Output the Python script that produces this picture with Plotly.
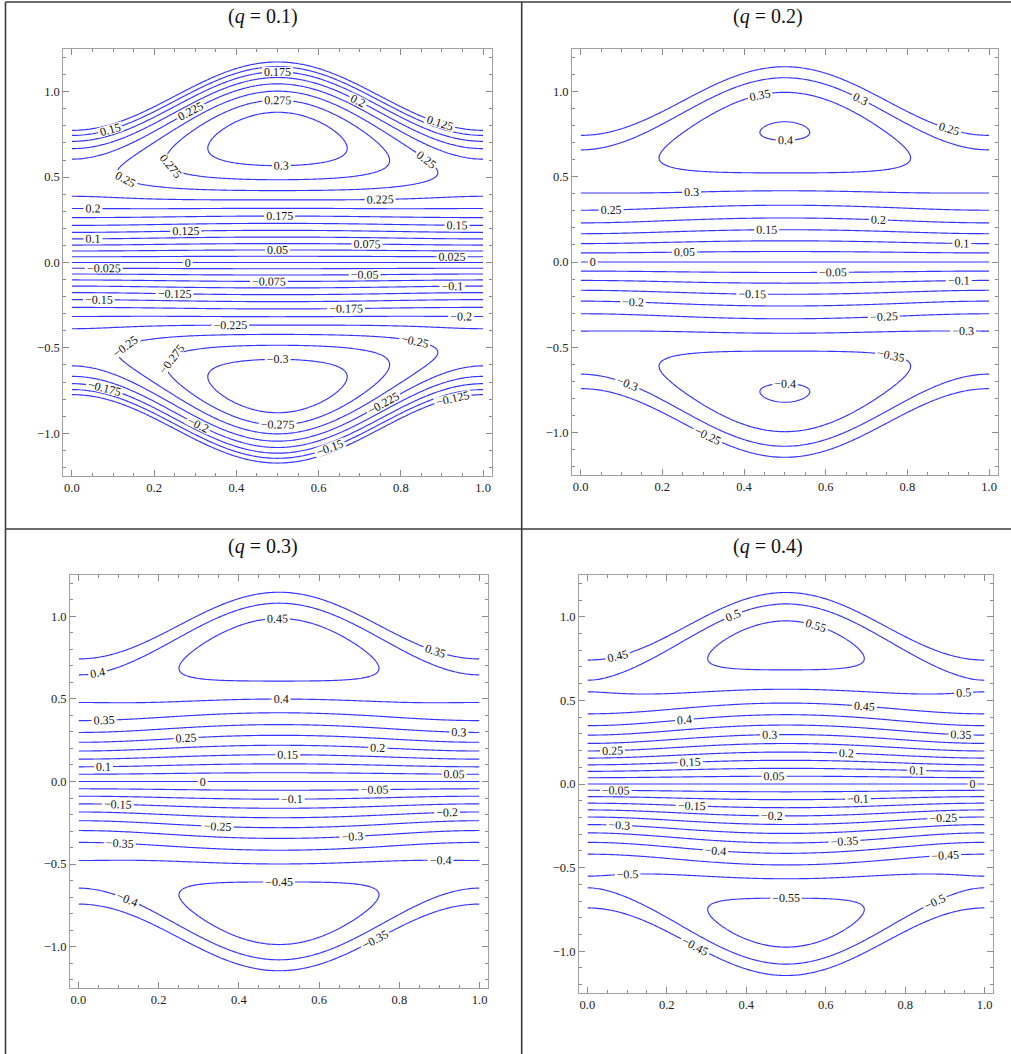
import numpy as np
import plotly.graph_objects as go

# ---------------- data ----------------
q_values = [0.1, 0.2, 0.3, 0.4]
panel_titles = ["(<i>q</i> = 0.1)", "(<i>q</i> = 0.2)", "(<i>q</i> = 0.3)", "(<i>q</i> = 0.4)"]
level_steps = [0.025, 0.05, 0.05, 0.05]
level_limits = [0.3, 0.4, 0.45, 0.55]
wall_mean = 1.0          # mean channel half-width
wall_amplitude = 0.2     # wave amplitude of the wall
flow_index = 1.25        # power-law flow behaviour index
x_tick_vals = [0.0, 0.2, 0.4, 0.6, 0.8, 1.0]
y_tick_vals = [-1.0, -0.5, 0.0, 0.5, 1.0]

# ---------------- layout geometry (pixels) ----------------
W, H = 1011, 1054
# plot frames: (left, right, top, bottom) in pixels
frames = [(63.3, 491.7, 49, 476), (572, 997.7, 49, 475),
          (70, 488, 575, 988), (579, 993, 575, 993)]
title_pos = [(263, 17), (768, 17), (263, 546), (768, 546)]

# ---------------- stream-function field ----------------
xs = np.linspace(0.0, 1.0, 161)
ys = np.linspace(-1.2, 1.2, 481)
X, Y = np.meshgrid(xs, ys)
Hw = wall_mean - wall_amplitude * np.cos(2 * np.pi * X)
m = 1.0 + 1.0 / flow_index


def stream(q):
    A = (q + Hw) * (m + 1) / (Hw * m)
    r = np.abs(Y) / Hw
    psi = A * (Y - Hw * np.sign(Y) * r ** (m + 1) / (m + 1)) - Y
    psi = np.round(psi, 5).astype(object)
    psi[r > 1.0] = None
    return psi.tolist()


fig = go.Figure()
tick_font = dict(family="Liberation Serif", size=12.5, color="#222")
for k, q in enumerate(q_values):
    ax = "" if k == 0 else str(k + 1)
    fig.add_trace(go.Contour(
        x=xs, y=ys, z=stream(q),
        xaxis="x" + ax, yaxis="y" + ax,
        autocontour=False,
        contours=dict(start=-level_limits[k], end=level_limits[k] + 1e-9,
                      size=level_steps[k], coloring="none", showlabels=True,
                      labelfont=dict(family="Liberation Serif", size=12, color="#111"),
                      labelformat=".3~f"),
        line=dict(color="#3434ff", width=1.15),
        showscale=False, hoverinfo="skip",
    ))
    l, r, t, b = frames[k]
    axis_common = dict(showline=True, linecolor="#a0a0a0", linewidth=1, mirror="ticks",
                       ticks="inside", ticklen=6, tickcolor="#8a8a8a", tickwidth=1,
                       showgrid=False, zeroline=False, tickfont=tick_font,
                       tickformat=".1f")
    fig.layout["xaxis" + ax] = dict(
        domain=[l / W, r / W], range=[-0.021, 1.021], anchor="y" + ax,
        tickvals=x_tick_vals,
        minor=dict(dtick=0.05, tick0=0, ticks="inside", ticklen=3, tickcolor="#8a8a8a",
                   showgrid=False),
        **axis_common)
    fig.layout["yaxis" + ax] = dict(
        domain=[1 - b / H, 1 - t / H], range=[-1.25, 1.25], anchor="x" + ax,
        tickvals=y_tick_vals,
        minor=dict(dtick=0.1, tick0=0, ticks="inside", ticklen=3, tickcolor="#8a8a8a",
                   showgrid=False),
        **axis_common)
    tx, ty = title_pos[k]
    fig.add_annotation(x=tx / W, y=1 - ty / H, xref="paper", yref="paper",
                       text=panel_titles[k], showarrow=False,
                       font=dict(family="Liberation Serif", size=20, color="#111"),
                       xanchor="center", yanchor="middle")

# table borders
border = dict(color="#3c3c3c", width=1.6)
shapes = [
    dict(type="line", xref="paper", yref="paper", x0=5.5 / W, x1=1, y0=1 - 2 / H, y1=1 - 2 / H, line=border),
    dict(type="line", xref="paper", yref="paper", x0=5.5 / W, x1=5.5 / W, y0=0, y1=1 - 2 / H, line=border),
    dict(type="line", xref="paper", yref="paper", x0=521.7 / W, x1=521.7 / W, y0=0, y1=1 - 2 / H, line=border),
    dict(type="line", xref="paper", yref="paper", x0=5.5 / W, x1=1, y0=1 - 529 / H, y1=1 - 529 / H, line=border),
]
fig.update_layout(width=W, height=H, margin=dict(l=0, r=0, t=0, b=0),
                  paper_bgcolor="white", plot_bgcolor="white", showlegend=False,
                  shapes=shapes)
fig.write_html("out.html", config={"displayModeBar": False},
               post_script="document.body.style.margin='0';document.body.style.overflow='hidden';")
